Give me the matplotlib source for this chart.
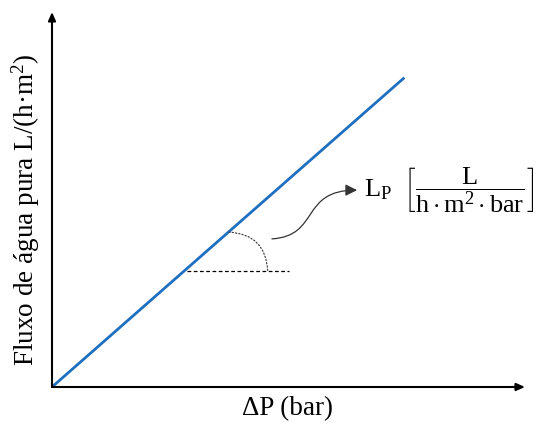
import matplotlib.pyplot as plt
from matplotlib.patches import FancyArrowPatch
from matplotlib.path import Path

plt.rcParams["font.family"] = ["Liberation Serif", "DejaVu Serif"]
plt.rcParams["mathtext.fontset"] = "custom"
plt.rcParams["mathtext.rm"] = "Liberation Serif"
plt.rcParams["mathtext.it"] = "Liberation Serif:italic"

# straight-line flux vs pressure (arbitrary units)
dp = [0.0, 7.45]
flux = [0.0, 8.25]

# slope marker: horizontal reference and the arc back to the line
ref_y = 3.09
ref_x = [2.85, 5.0]
arc_start = (3.74, 4.13)
arc_end = (4.56, ref_y)

# S-shaped pointer towards the L_P label
pointer = [(4.65, 3.95), (5.67, 4.03), (5.24, 5.25), (6.45, 5.25)]

xlabel = "ΔP (bar)"
ylabel = "Fluxo de água pura L/(h·m$^2$)"
lp_label = r"$\mathrm{L_P}\ \ \left[\dfrac{\mathrm{L}}{\mathrm{h\cdot m^2\cdot bar}}\right]$"

fig = plt.figure(figsize=(5.38, 4.24), dpi=100)
ax = fig.add_axes([52 / 538, 37 / 424, 473 / 538, 375 / 424])
ax.set_xlim(0, 10)
ax.set_ylim(0, 10)
for s in ax.spines.values():
    s.set_visible(False)
ax.set_xticks([])
ax.set_yticks([])

# axes as arrows
arrow_kw = dict(arrowstyle="-|>,head_length=0.5,head_width=0.22", color="black", lw=1.5,
                shrinkA=0, shrinkB=0)
ax.annotate("", xy=(1, 0), xytext=(0, 0), xycoords="axes fraction",
            arrowprops=arrow_kw, annotation_clip=False)
ax.annotate("", xy=(0, 1), xytext=(0, 0), xycoords="axes fraction",
            arrowprops=arrow_kw, annotation_clip=False)

ax.plot(dp, flux, color="#1f6fc1", lw=2.0, solid_capstyle="butt")

ax.plot(ref_x, [ref_y, ref_y], color="black", lw=0.9, ls=(0, (3, 2)))
ax.annotate("", xy=arc_end, xytext=arc_start,
            arrowprops=dict(arrowstyle="-", color="#444444", lw=0.9, ls=":",
                            connectionstyle="arc3,rad=-0.45", shrinkA=0, shrinkB=0))

codes = [Path.MOVETO, Path.CURVE4, Path.CURVE4, Path.CURVE4]
ax.add_patch(FancyArrowPatch(path=Path(pointer, codes),
                             arrowstyle="-|>,head_length=0.5,head_width=0.25",
                             mutation_scale=14, color="#333333", lw=0.9))

ax.text(6.6, 5.25, lp_label, fontsize=19, va="center", ha="left", clip_on=False)

fig.text(288 / 538, 1 - 409 / 424, xlabel, fontsize=19.5, ha="center", va="center")
fig.text(26 / 538, 1 - 210 / 424, ylabel, fontsize=19.5, ha="center", va="center",
         rotation=90)

fig.savefig("out.png", dpi=100)
